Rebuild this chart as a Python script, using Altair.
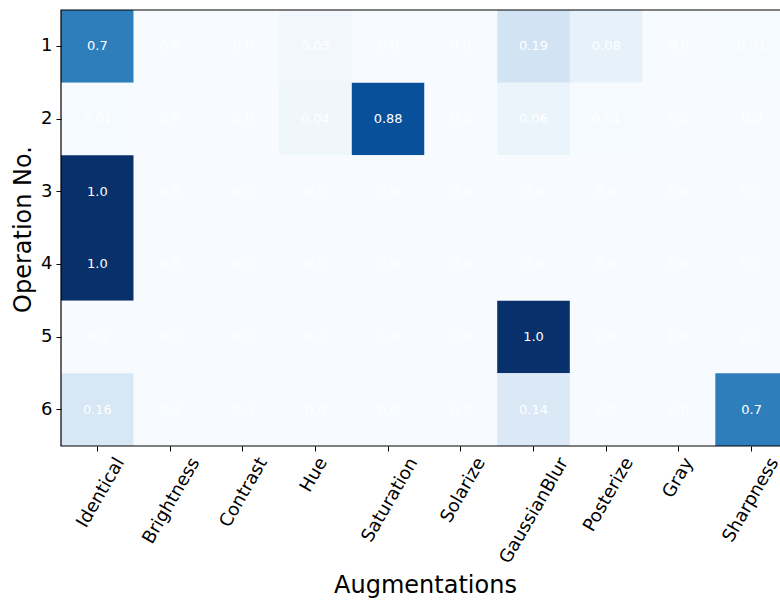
import altair as alt
import pandas as pd

augmentations = ["Identical", "Brightness", "Contrast", "Hue", "Saturation",
                 "Solarize", "GaussianBlur", "Posterize", "Gray", "Sharpness"]
operations = ["1", "2", "3", "4", "5", "6"]

op1 = [0.7, 0.0, 0.0, 0.03, 0.0, 0.0, 0.19, 0.08, 0.0, 0.01]
op2 = [0.01, 0.0, 0.0, 0.04, 0.88, 0.0, 0.06, 0.01, 0.0, 0.0]
op3 = [1.0, 0.0, 0.0, 0.0, 0.0, 0.0, 0.0, 0.0, 0.0, 0.0]
op4 = [1.0, 0.0, 0.0, 0.0, 0.0, 0.0, 0.0, 0.0, 0.0, 0.0]
op5 = [0.0, 0.0, 0.0, 0.0, 0.0, 0.0, 1.0, 0.0, 0.0, 0.0]
op6 = [0.16, 0.0, 0.0, 0.0, 0.0, 0.0, 0.14, 0.0, 0.0, 0.7]

blues = ['#f7fbff', '#deebf7', '#c6dbef', '#9ecae1', '#6baed6',
         '#4292c6', '#2171b5', '#08519c', '#08306b']
blues_domain = [i / 8 for i in range(9)]

records = []
for op, vals in zip(operations, [op1, op2, op3, op4, op5, op6]):
    for aug, v in zip(augmentations, vals):
        records.append({"aug": aug, "op": op, "v": v, "label": str(v)})
df = pd.DataFrame(records)

FONT = "DejaVu Sans"
W, H = 727, 436

x_enc = alt.X("aug:N", sort=augmentations, title="Augmentations",
              scale=alt.Scale(paddingInner=0, paddingOuter=0),
              axis=alt.Axis(labelAngle=300, labelAlign="right", labelBaseline="middle",
                            labelOffset=alt.ExprRef("length(datum.value)*2.55"),
                            labelPadding=8, tickSize=5, tickColor="black", tickWidth=1,
                            labelColor="black", labelFontSize=18, labelFont=FONT,
                            titleFont=FONT, titleFontSize=24, titleFontWeight="normal",
                            titleColor="black", titleX=364, titleY=146,
                            titleBaseline="alphabetic",
                            domain=False, grid=False, labelOverlap=False))
y_enc = alt.Y("op:O", sort=operations, title="Operation No.",
              scale=alt.Scale(paddingInner=0, paddingOuter=0),
              axis=alt.Axis(labelAngle=0, labelPadding=4, tickSize=5, tickColor="black",
                            tickWidth=1, labelColor="black", labelFontSize=18, labelFont=FONT,
                            titleFont=FONT, titleFontSize=24, titleFontWeight="normal",
                            titleColor="black", titleX=-38, titleY=219,
                            titleBaseline="middle", domain=False, grid=False))

base = alt.Chart(df)
rect = base.mark_rect().encode(
    x=x_enc, y=y_enc,
    color=alt.Color("v:Q", scale=alt.Scale(domain=blues_domain, range=blues,
                                          interpolate="rgb"), legend=None),
)
text = base.mark_text(color="white", fontSize=13, font=FONT).encode(
    x=alt.X("aug:N", sort=augmentations),
    y=alt.Y("op:O", sort=operations),
    text="label:N",
)
frame = alt.Chart(alt.Data(values=[{}])).mark_rect(
    filled=False, stroke="black", strokeWidth=1.2
).encode(x=alt.value(0), x2=alt.value(W), y=alt.value(0), y2=alt.value(H))

chart = alt.layer(rect, text, frame).properties(
    width=W, height=H,
    padding={"left": 61, "top": 10, "right": -8, "bottom": 158},
    autosize="none",
    background="white",
).configure_view(stroke=None)

chart.save("out.html", embed_options={"renderer": "svg", "actions": False})
